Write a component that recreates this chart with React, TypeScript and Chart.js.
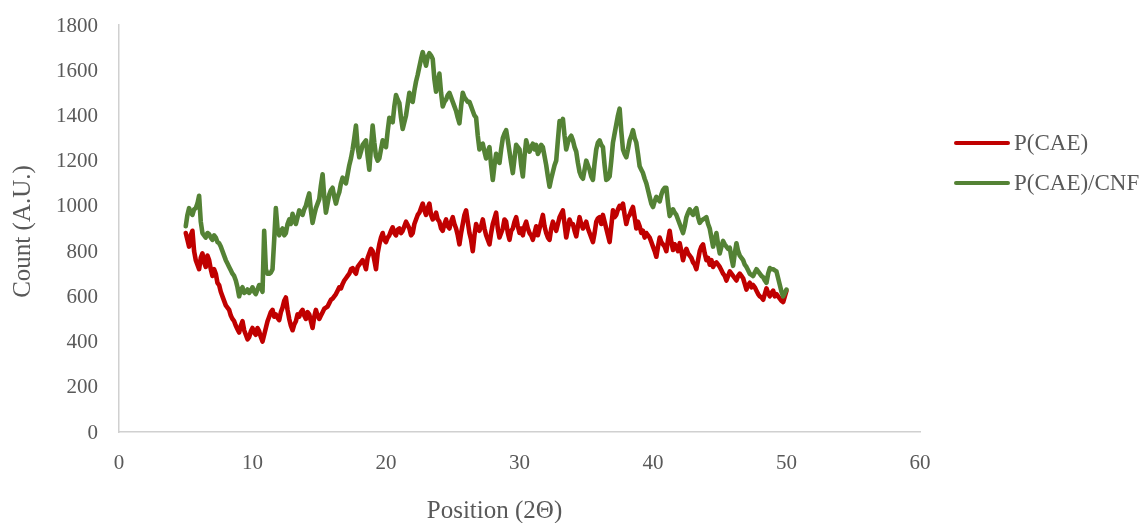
import React, { useEffect, useRef } from "react";
import { Chart, registerables } from "chart.js";

Chart.register(...registerables);

// 2θ positions (degrees)
const POSITION = [
  5, 5.125, 5.25, 5.375, 5.5, 5.625, 5.75, 5.875, 6, 6.125, 6.25, 6.375, 6.5, 6.625, 6.75, 6.875,
  7, 7.125, 7.25, 7.375, 7.5, 7.625, 7.75, 7.875, 8, 8.125, 8.25, 8.375, 8.5, 8.625, 8.75, 8.875,
  9, 9.125, 9.25, 9.375, 9.5, 9.625, 9.75, 9.875, 10, 10.125, 10.25, 10.375, 10.5, 10.625, 10.75, 10.875,
  11, 11.125, 11.25, 11.375, 11.5, 11.625, 11.75, 11.875, 12, 12.125, 12.25, 12.375, 12.5, 12.625, 12.75, 12.875,
  13, 13.125, 13.25, 13.375, 13.5, 13.625, 13.75, 13.875, 14, 14.125, 14.25, 14.375, 14.5, 14.625, 14.75, 14.875,
  15, 15.125, 15.25, 15.375, 15.5, 15.625, 15.75, 15.875, 16, 16.125, 16.25, 16.375, 16.5, 16.625, 16.75, 16.875,
  17, 17.125, 17.25, 17.375, 17.5, 17.625, 17.75, 17.875, 18, 18.125, 18.25, 18.375, 18.5, 18.625, 18.75, 18.875,
  19, 19.125, 19.25, 19.375, 19.5, 19.625, 19.75, 19.875, 20, 20.125, 20.25, 20.375, 20.5, 20.625, 20.75, 20.875,
  21, 21.125, 21.25, 21.375, 21.5, 21.625, 21.75, 21.875, 22, 22.125, 22.25, 22.375, 22.5, 22.625, 22.75, 22.875,
  23, 23.125, 23.25, 23.375, 23.5, 23.625, 23.75, 23.875, 24, 24.125, 24.25, 24.375, 24.5, 24.625, 24.75, 24.875,
  25, 25.125, 25.25, 25.375, 25.5, 25.625, 25.75, 25.875, 26, 26.125, 26.25, 26.375, 26.5, 26.625, 26.75, 26.875,
  27, 27.125, 27.25, 27.375, 27.5, 27.625, 27.75, 27.875, 28, 28.125, 28.25, 28.375, 28.5, 28.625, 28.75, 28.875,
  29, 29.125, 29.25, 29.375, 29.5, 29.625, 29.75, 29.875, 30, 30.125, 30.25, 30.375, 30.5, 30.625, 30.75, 30.875,
  31, 31.125, 31.25, 31.375, 31.5, 31.625, 31.75, 31.875, 32, 32.125, 32.25, 32.375, 32.5, 32.625, 32.75, 32.875,
  33, 33.125, 33.25, 33.375, 33.5, 33.625, 33.75, 33.875, 34, 34.125, 34.25, 34.375, 34.5, 34.625, 34.75, 34.875,
  35, 35.125, 35.25, 35.375, 35.5, 35.625, 35.75, 35.875, 36, 36.125, 36.25, 36.375, 36.5, 36.625, 36.75, 36.875,
  37, 37.125, 37.25, 37.375, 37.5, 37.625, 37.75, 37.875, 38, 38.125, 38.25, 38.375, 38.5, 38.625, 38.75, 38.875,
  39, 39.125, 39.25, 39.375, 39.5, 39.625, 39.75, 39.875, 40, 40.125, 40.25, 40.375, 40.5, 40.625, 40.75, 40.875,
  41, 41.125, 41.25, 41.375, 41.5, 41.625, 41.75, 41.875, 42, 42.125, 42.25, 42.375, 42.5, 42.625, 42.75, 42.875,
  43, 43.125, 43.25, 43.375, 43.5, 43.625, 43.75, 43.875, 44, 44.125, 44.25, 44.375, 44.5, 44.625, 44.75, 44.875,
  45, 45.125, 45.25, 45.375, 45.5, 45.625, 45.75, 45.875, 46, 46.125, 46.25, 46.375, 46.5, 46.625, 46.75, 46.875,
  47, 47.125, 47.25, 47.375, 47.5, 47.625, 47.75, 47.875, 48, 48.125, 48.25, 48.375, 48.5, 48.625, 48.75, 48.875,
  49, 49.125, 49.25, 49.375, 49.5, 49.625, 49.75, 49.875, 50,
];

// Count (A.U.) – P(CAE)
const P_CAE = [
  880, 850, 820, 870, 890, 800, 760, 740, 720, 770, 790, 750, 730, 780, 760, 720,
  690, 720, 700, 660, 650, 620, 600, 580, 560, 550, 540, 515, 500, 490, 470, 455,
  440, 470, 490, 450, 430, 410, 420, 445, 460, 440, 430, 460, 445, 420, 400, 430,
  460, 490, 510, 530, 540, 510, 520, 505, 495, 530, 550, 580, 595, 540, 500, 470,
  450, 475, 490, 520, 510, 530, 540, 515, 500, 530, 520, 490, 460, 510, 540, 515,
  500, 515, 530, 545, 550, 555, 570, 585, 590, 600, 610, 625, 640, 635, 655, 670,
  680, 690, 700, 720, 725, 710, 700, 730, 740, 750, 760, 745, 720, 770, 790, 810,
  800, 760, 720, 790, 830, 860, 880, 850, 840, 860, 870, 890, 905, 880, 870, 895,
  900, 880, 890, 910, 930, 915, 900, 870, 880, 920, 940, 960, 970, 990, 1010, 980,
  960, 990, 1010, 960, 940, 950, 970, 940, 930, 900, 890, 920, 940, 910, 900, 930,
  950, 920, 900, 870, 830, 880, 920, 960, 980, 930, 880, 850, 800, 870, 920, 900,
  890, 910, 940, 900, 870, 850, 830, 880, 920, 945, 970, 900, 860, 880, 900, 940,
  930, 880, 850, 890, 900, 930, 950, 910, 880, 900, 870, 910, 930, 900, 880, 870,
  850, 880, 910, 870, 900, 930, 960, 910, 880, 860, 850, 900, 930, 910, 890, 920,
  950, 965, 980, 920, 860, 900, 940, 920, 920, 890, 865, 910, 950, 920, 900, 915,
  930, 900, 880, 860, 840, 880, 930, 945, 950, 920, 960, 930, 900, 870, 840, 910,
  980, 950, 960, 985, 1000, 990, 1010, 960, 920, 950, 960, 980, 995, 950, 900, 930,
  910, 880, 890, 860, 880, 870, 860, 840, 820, 800, 775, 820, 860, 840, 830, 820,
  800, 850, 890, 840, 805, 830, 820, 800, 835, 800, 760, 790, 810, 790, 780, 770,
  750, 740, 720, 760, 800, 820, 830, 790, 760, 770, 740, 760, 730, 745, 750, 740,
  730, 715, 700, 690, 670, 690, 710, 700, 690, 680, 670, 690, 700, 690, 680, 655,
  630, 650, 660, 640, 650, 640, 625, 610, 600, 595, 585, 610, 635, 615, 600, 615,
  625, 600, 610, 600, 590, 580, 575, 600, 625,
];

// Count (A.U.) – P(CAE)/CNF
const P_CAE_CNF = [
  910, 960, 990, 970, 960, 985, 990, 1010, 1045, 930, 880, 870, 860, 880, 875, 860,
  850, 870, 860, 840, 835, 820, 800, 780, 760, 745, 730, 715, 700, 690, 670, 640,
  600, 630, 640, 615, 620, 630, 615, 625, 640, 620, 610, 630, 650, 640, 620, 890,
  720, 700, 700, 705, 720, 850, 990, 900, 870, 890, 900, 870, 880, 920, 940, 920,
  965, 940, 920, 950, 980, 970, 960, 985, 1000, 1030, 1055, 980, 925, 960, 990, 1010,
  1030, 1090, 1140, 1040, 970, 1010, 1050, 1070, 1080, 1040, 1010, 1040, 1060, 1100, 1125, 1110,
  1100, 1140, 1180, 1210, 1250, 1300, 1355, 1260, 1215, 1240, 1270, 1280, 1290, 1220, 1160, 1260,
  1355, 1280, 1220, 1200, 1210, 1250, 1290, 1270, 1260, 1330, 1390, 1380, 1370, 1440, 1490, 1470,
  1455, 1390, 1340, 1370, 1400, 1450, 1500, 1470, 1460, 1510, 1550, 1580, 1615, 1650, 1680, 1650,
  1620, 1660, 1675, 1665, 1650, 1560, 1505, 1550, 1585, 1500, 1440, 1460, 1470, 1490, 1500, 1480,
  1460, 1440, 1420, 1390, 1365, 1440, 1500, 1480, 1470, 1460, 1460, 1440, 1420, 1400, 1390, 1310,
  1250, 1270, 1275, 1240, 1210, 1240, 1260, 1180, 1115, 1180, 1230, 1200, 1190, 1250, 1300, 1320,
  1335, 1290, 1240, 1190, 1145, 1210, 1270, 1260, 1250, 1180, 1130, 1220, 1290, 1260, 1240, 1260,
  1275, 1250, 1270, 1230, 1245, 1270, 1260, 1220, 1180, 1130, 1085, 1120, 1150, 1180, 1200, 1290,
  1375, 1360, 1385, 1310, 1250, 1280, 1300, 1310, 1290, 1260, 1240, 1190, 1150, 1130, 1120, 1160,
  1200, 1180, 1160, 1130, 1115, 1190, 1250, 1280, 1290, 1270, 1260, 1180, 1115, 1120, 1130, 1200,
  1280, 1320, 1360, 1400, 1430, 1330, 1250, 1230, 1215, 1250, 1290, 1310, 1335, 1300, 1280, 1230,
  1175, 1160, 1145, 1120, 1100, 1070, 1040, 1010, 995, 1020, 1040, 1030, 1020, 1050, 1070, 1080,
  1080, 1010, 955, 970, 985, 970, 960, 940, 920, 900, 880, 910, 950, 970, 985, 970,
  960, 980, 990, 950, 925, 935, 940, 945, 950, 920, 900, 860, 820, 850, 880, 830,
  790, 820, 845, 830, 820, 810, 815, 770, 735, 790, 835, 800, 780, 770, 760, 740,
  730, 715, 700, 695, 690, 705, 720, 710, 700, 690, 685, 670, 660, 700, 725, 720,
  720, 715, 710, 680, 650, 620, 600, 615, 630,
];

const SERIES_LABELS = ["P(CAE)", "P(CAE)/CNF"];
const SERIES_COLORS = ["#C00000", "#548235"];
const X_TITLE = "Position (2Θ)";
const Y_TITLE = "Count (A.U.)";
const X_MIN = 0;
const X_MAX = 60;
const X_STEP = 10;
const Y_MIN = 0;
const Y_MAX = 1800;
const Y_STEP = 200;

const FONT = "'Liberation Serif', 'Times New Roman', serif";
const TEXT_COLOR = "#595959";

const textPlugin = {
  id: "excelText",
  afterDraw(chart: any) {
    const ctx = chart.ctx as CanvasRenderingContext2D;
    const xs = chart.scales.x;
    const ys = chart.scales.y;
    const area = chart.chartArea;
    ctx.save();
    ctx.fillStyle = TEXT_COLOR;

    // y tick labels
    ctx.font = `21px ${FONT}`;
    ctx.textAlign = "right";
    ctx.textBaseline = "middle";
    ys.ticks.forEach((t: any) => {
      const py = ys.getPixelForValue(t.value);
      ctx.fillText(String(t.value), area.left - 21, py + 1);
    });

    // x tick labels
    ctx.textAlign = "center";
    xs.ticks.forEach((t: any) => {
      const px = xs.getPixelForValue(t.value);
      ctx.fillText(String(t.value), px, area.bottom + 31);
    });

    // axis titles
    ctx.font = `25px ${FONT}`;
    ctx.fillText(X_TITLE, (area.left + area.right) / 2 - 25, area.bottom + 79);
    ctx.save();
    ctx.translate(23, (area.top + area.bottom) / 2 + 3);
    ctx.rotate(-Math.PI / 2);
    ctx.fillText(Y_TITLE, 0, 0);
    ctx.restore();

    // legend
    ctx.font = `23px ${FONT}`;
    ctx.textAlign = "left";
    chart.data.datasets.forEach((ds: any, i: number) => {
      const ly = 143 + i * 40;
      ctx.strokeStyle = ds.borderColor;
      ctx.lineWidth = 4;
      ctx.lineCap = "round";
      ctx.beginPath();
      ctx.moveTo(956, ly);
      ctx.lineTo(1008, ly);
      ctx.stroke();
      ctx.fillStyle = TEXT_COLOR;
      ctx.fillText(ds.label, 1014, ly + 1);
    });
    ctx.restore();
  },
};

export default function App() {
  const canvasRef = useRef<HTMLCanvasElement | null>(null);

  useEffect(() => {
    document.body.style.margin = "0";
    const canvas = canvasRef.current;
    if (!canvas) return;
    const series = [P_CAE, P_CAE_CNF];
    const chart = new Chart(canvas, {
      type: "line",
      data: {
        datasets: series.map((vals, si) => ({
          label: SERIES_LABELS[si],
          data: POSITION.map((x, i) => ({ x, y: vals[i] })),
          borderColor: SERIES_COLORS[si],
          backgroundColor: SERIES_COLORS[si],
          borderWidth: 4.6,
          pointRadius: 0,
          tension: 0,
          fill: false,
          borderJoinStyle: "round" as const,
          borderCapStyle: "round" as const,
          order: si === 0 ? 1 : 0,
        })),
      },
      options: {
        animation: false,
        responsive: false,
        devicePixelRatio: 1,
        layout: { padding: { left: 0, top: 25, right: 224, bottom: 0 } },
        plugins: {
          legend: { display: false },
          tooltip: { enabled: false },
          title: { display: false },
        },
        scales: {
          x: {
            type: "linear",
            min: X_MIN,
            max: X_MAX,
            ticks: { stepSize: X_STEP, display: false },
            grid: { display: false, drawTicks: false },
            border: { display: true, color: "#d0d0d0", width: 1.5 },
            afterFit: (s: any) => {
              s.height = 91;
            },
          },
          y: {
            type: "linear",
            min: Y_MIN,
            max: Y_MAX,
            ticks: { stepSize: Y_STEP, display: false },
            grid: { display: false, drawTicks: false },
            border: { display: true, color: "#d0d0d0", width: 1.5 },
            afterFit: (s: any) => {
              s.width = 119;
            },
          },
        },
      },
      plugins: [textPlugin],
    });
    return () => chart.destroy();
  }, []);

  return (
    <div style={{ width: 1144, height: 523, background: "#fff" }}>
      <canvas ref={canvasRef} width={1144} height={523} />
    </div>
  );
}
